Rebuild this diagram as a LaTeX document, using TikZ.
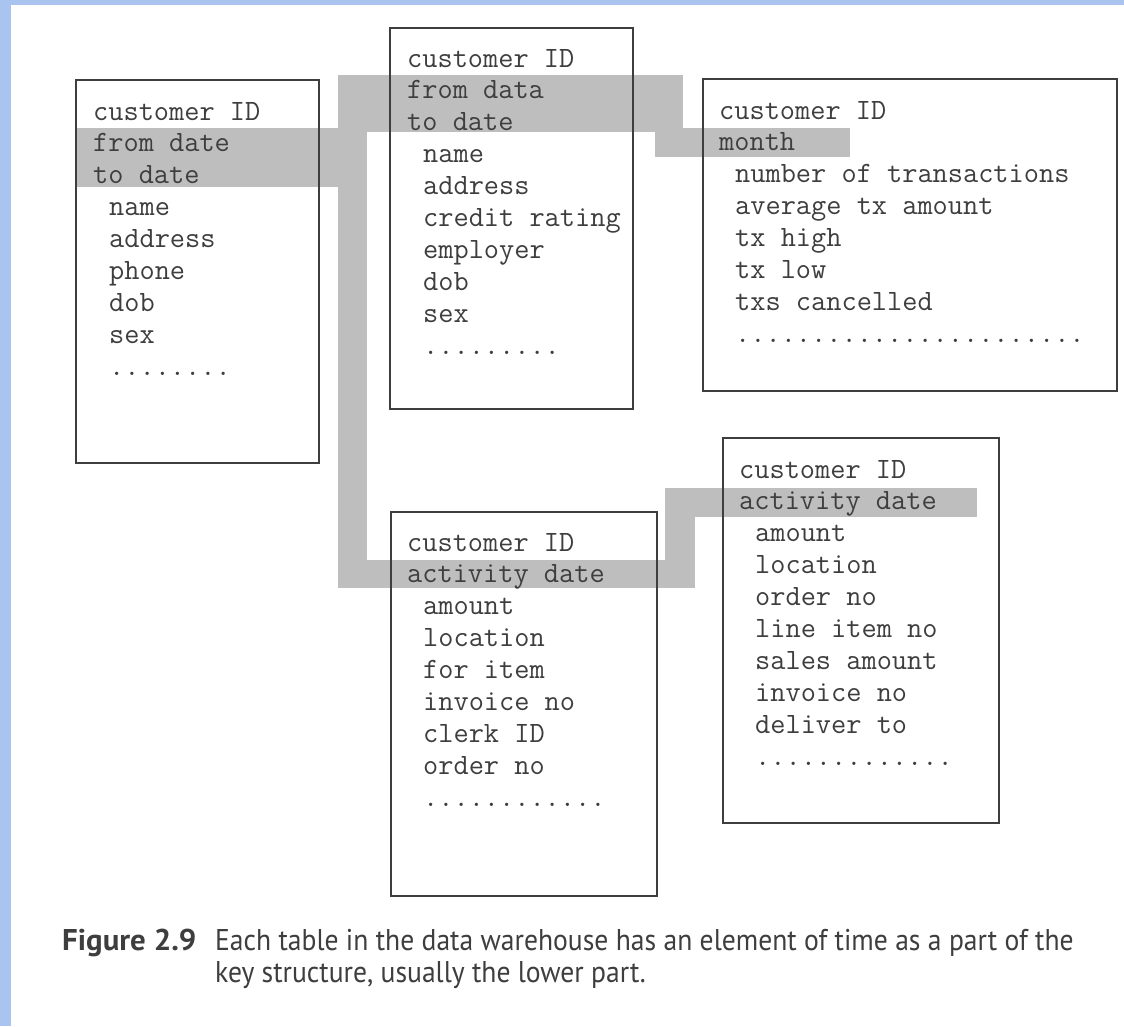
\documentclass[tikz,border=0pt]{standalone}
\usepackage{fontspec}
\newfontfamily\capfont[FakeStretch=0.92]{PT Sans}
\newfontfamily\capnofont[FakeStretch=1.03]{PT Sans}
\usetikzlibrary{calc}

\definecolor{slideblue}{RGB}{169,196,238}
\definecolor{keyband}{RGB}{190,190,190}
\definecolor{ink}{RGB}{62,62,62}

\tikzset{
  tablebox/.style={draw=ink, line width=1.5pt, inner sep=0pt, anchor=north west},
  row/.style={inner sep=0pt, anchor=base west, text=ink,
    font=\ttfamily\fontsize{29.5}{31.9}\selectfont},
  band/.style={fill=keyband, draw=none},
  caption/.style={inner sep=0pt, anchor=base west, text=ink,
    font=\capfont\fontsize{30}{32}\selectfont},
}

% a row of n full stops, for the "more fields" line
\def\dotline#1{\ifnum#1>0 .\expandafter\dotline\expandafter{\the\numexpr#1-1\relax}\fi}

% one text line per list item, each 31.9 units below the previous one
\newcommand\rowlist[4]{%
  \foreach \txt [count=\k from 0] in {#4} {
    \node[row] (#1\k) at (#2, {#3+\k*31.9}) {\txt};
  }%
}

\begin{document}
\begin{tikzpicture}[x=1pt, y=-1pt]
  \useasboundingbox (0,0) rectangle (1124,1026);
  \fill[white] (0,0) rectangle (1124,1026);
  % slide frame
  \fill[slideblue] (0,0) rectangle (1124,5);
  \fill[slideblue] (0,0) rectangle (11,1026);

  % shaded key band linking the time part of each key
  \fill[band] (75,128) rectangle (338,187);
  \fill[band] (338,75) rectangle (367,588);
  \fill[band] (338,75) rectangle (683,132);
  \fill[band] (655,128) rectangle (850,157);
  \fill[band] (338,560) rectangle (695,588);
  \fill[band] (665,488) rectangle (695,588);
  \fill[band] (665,488) rectangle (977,517);

  % tables
  \node[tablebox, minimum width=243pt, minimum height=383pt] (custA) at (75,79) {};
  \node[tablebox, minimum width=243pt, minimum height=381pt] (custB) at (389,27) {};
  \node[tablebox, minimum width=414pt, minimum height=312pt] (monthly) at (702,78) {};
  \node[tablebox, minimum width=266pt, minimum height=384pt] (actA) at (390,511) {};
  \node[tablebox, minimum width=276pt, minimum height=385pt] (actB) at (722,437) {};

  % customer table, from date / to date
  \rowlist{ak}{93}{120}{customer ID,from date,to date}
  \rowlist{af}{109}{215.7}{name,address,phone,dob,sex,\dotline{8}}

  % customer table, from data / to date
  \rowlist{bk}{407}{67}{customer ID,from data,to date}
  \rowlist{bf}{423}{162.7}{name,address,credit rating,employer,dob,sex,\dotline{9}}

  % monthly summary table
  \rowlist{mk}{719}{119}{customer ID,month}
  \rowlist{mf}{735}{182.8}{number of transactions,average tx amount,tx high,tx low,txs cancelled,\dotline{23}}

  % activity table with invoice data
  \rowlist{ck}{407}{551}{customer ID,activity date}
  \rowlist{cf}{423}{614.8}{amount,location,for item,invoice no,clerk ID,order no,\dotline{12}}

  % activity table with order lines
  \rowlist{dk}{739}{478}{customer ID,activity date}
  \rowlist{df}{755}{541.8}{amount,location,order no,line item no,sales amount,invoice no,deliver to,\dotline{13}}

  % caption
  \node[caption, font=\capnofont\bfseries\fontsize{30}{32}\selectfont] (figno) at (62,950) {Figure 2.9};
  \node[caption] (capA) at (215,950) {Each table in the data warehouse has an element of time as a part of the};
  \node[caption] (capB) at (215,982) {key structure, usually the lower part.};
\end{tikzpicture}
\end{document}
